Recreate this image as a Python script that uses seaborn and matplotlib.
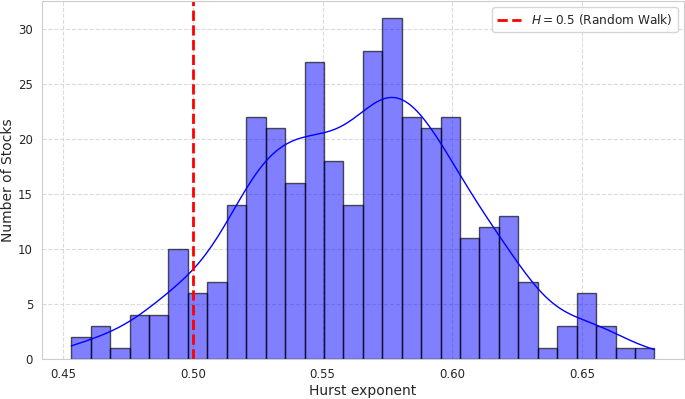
import numpy as np
import pandas as pd
import seaborn as sns
import matplotlib.pyplot as plt

# histogram: 30 bins between the smallest and largest exponent
hurst_min = 0.453
hurst_max = 0.678
n_bins = 30
counts = [2, 3, 1, 4, 4, 10, 6, 7, 14, 22,
          21, 16, 27, 18, 14, 28, 31, 22, 21, 22,
          11, 12, 13, 7, 1, 3, 6, 3, 1, 1]

edges = np.linspace(hurst_min, hurst_max, n_bins + 1)
centers = (edges[:-1] + edges[1:]) / 2
values = np.repeat(centers, counts)
values[0] = hurst_min
values[-1] = hurst_max
df = pd.DataFrame({"hurst": values})

sns.set_style("whitegrid")
fig, ax = plt.subplots(figsize=(6.85, 3.99), dpi=100)

sns.histplot(data=df, x="hurst", bins=n_bins, binrange=(hurst_min, hurst_max),
             kde=True, color="blue", alpha=0.5, edgecolor=(0, 0, 0, 0.65),
             linewidth=1, line_kws={"linewidth": 1}, ax=ax)
ax.axvline(0.5, color="red", linestyle="--", linewidth=2, label="$H = 0.5$ (Random Walk)")

ax.grid(True, linestyle="--", alpha=0.7)
ax.set_xlabel("Hurst exponent", fontsize=10, color=".15", labelpad=2)
ax.set_ylabel("Number of Stocks", fontsize=10, color=".15", labelpad=2)
ax.tick_params(labelsize=8.5, labelcolor=".15", pad=3)
ax.legend(loc="upper right", fontsize=8.7)

plt.tight_layout(pad=0.1)
plt.savefig("out.png", dpi=100)
